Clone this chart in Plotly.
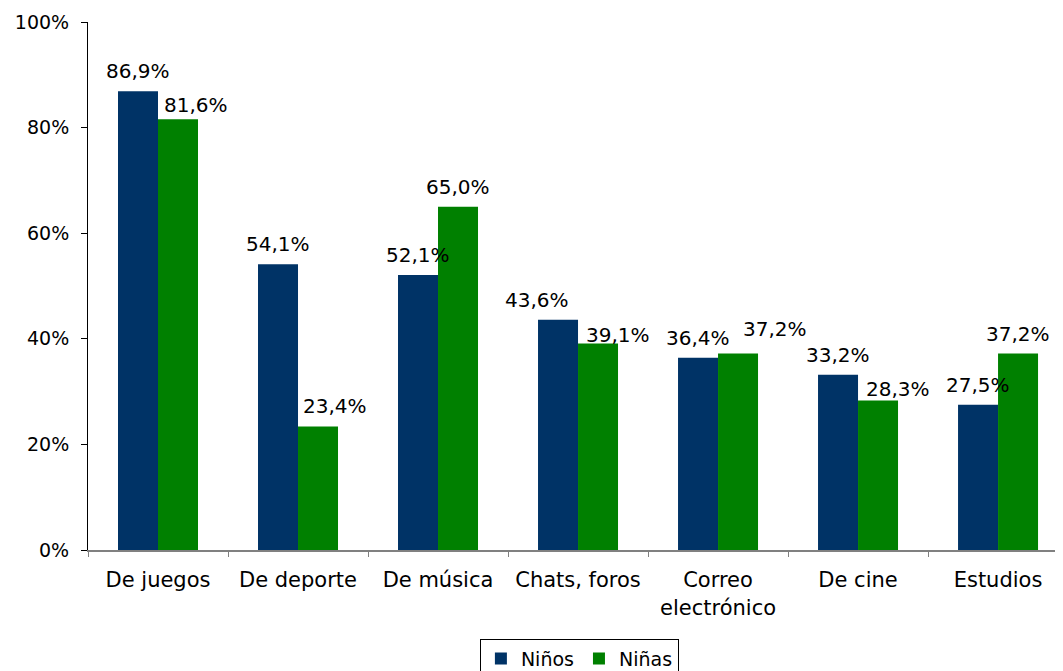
import plotly.graph_objects as go

categories = ["De juegos", "De deporte", "De música", "Chats, foros",
              "Correo<br>electrónico", "De cine", "Estudios"]
ninos = [86.9, 54.1, 52.1, 43.6, 36.4, 33.2, 27.5]
ninas = [81.6, 23.4, 65.0, 39.1, 37.2, 28.3, 37.2]
y_ticks = [0, 20, 40, 60, 80, 100]
y_tick_labels = ["0%", "20%", "40%", "60%", "80%", "100%"]

# label nudges in pixels (style only)
ninos_dx = [0, 0, 0, -21, 0, 0, 0]
ninos_dy = [0, 0, 0, 0, 0, 0, 0]
ninas_dx = [18, 17, 0, 20, 37, 20, 0]
ninas_dy = [-6, 0, 0, -11, 5, -8, 0]

FONT = "Verdana, DejaVu Sans, sans-serif"
C_NINOS = "#003366"
C_NINAS = "#008000"

fig = go.Figure()
fig.add_trace(go.Bar(x=categories, y=ninos, name="Niños", marker_color=C_NINOS,
                     marker_line_width=0))
fig.add_trace(go.Bar(x=categories, y=ninas, name="Niñas", marker_color=C_NINAS,
                     marker_line_width=0))


def fmt(v):
    return f"{v:.1f}".replace(".", ",") + "%"


ann = []
for i, c in enumerate(categories):
    ann.append(dict(x=c, y=ninos[i], text=fmt(ninos[i]), showarrow=False,
                    xref="x", yref="y", yanchor="bottom", xanchor="center",
                    xshift=-20 + ninos_dx[i], yshift=6 + ninos_dy[i],
                    font=dict(family=FONT, size=20, color="#000000")))
    ann.append(dict(x=c, y=ninas[i], text=fmt(ninas[i]), showarrow=False,
                    xref="x", yref="y", yanchor="bottom", xanchor="center",
                    xshift=20 + ninas_dx[i], yshift=6 + ninas_dy[i],
                    font=dict(family=FONT, size=20, color="#000000")))

# page has an 8px body margin: figure is drawn 8px right/down
fig.update_layout(
    width=1055, height=663,
    margin=dict(l=80, r=0, t=14, b=121, pad=0, autoexpand=False),
    paper_bgcolor="white", plot_bgcolor="white",
    barmode="group", bargap=0.4286, bargroupgap=0,
    font=dict(family=FONT, size=19, color="#000000"),
    annotations=ann,
    showlegend=True,
    legend=dict(orientation="h", x=0.504, xanchor="center", y=-0.168, yanchor="top",
                bordercolor="#000000", borderwidth=1, bgcolor="white",
                font=dict(family=FONT, size=19, color="#000000"),
                itemwidth=30, tracegroupgap=0),
)
fig.update_xaxes(range=[-0.5, 6.464], showline=True, linecolor="#808080", linewidth=2,
                 ticks="outside", tickson="boundaries", ticklen=5, tickcolor="#808080",
                 tickwidth=1, showgrid=False, zeroline=False,
                 tickfont=dict(family=FONT, size=21, color="#000000"),
                 ticklabelstandoff=10)
fig.update_yaxes(range=[0, 100], tickmode="array", tickvals=y_ticks, ticktext=y_tick_labels,
                 showline=True, linecolor="#000000", linewidth=1, ticks="outside", ticklen=6,
                 tickcolor="#000000", showgrid=False, zeroline=False,
                 tickfont=dict(family=FONT, size=19, color="#000000"),
                 ticklabelstandoff=8)

fig.write_html("out.html")
